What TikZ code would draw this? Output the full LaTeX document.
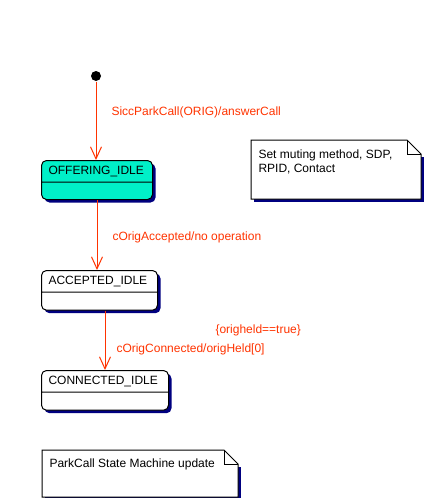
\documentclass[tikz,border=0pt]{standalone}
\usepackage{fontspec}
\setmainfont{Liberation Sans}
\usetikzlibrary{arrows.meta,shapes.multipart,shadows,calc}

\definecolor{stateaqua}{RGB}{0,240,200}
\definecolor{shadownavy}{RGB}{0,0,128}
\definecolor{transred}{RGB}{255,51,0}

\tikzset{
  startdot/.style={circle,fill=black,inner sep=0pt,minimum size=10pt},
  state/.style={rectangle split,rectangle split parts=2,draw,fill=white,
    rounded corners=5pt,inner xsep=7pt,inner ysep=0pt,align=left,
    drop shadow={shadow xshift=3pt,shadow yshift=-3pt,fill=shadownavy,opacity=1}},
  trans/.style={draw=transred,-{Straight Barb[length=12pt,width=11pt]}},
  translabel/.style={text=transred,anchor=west,inner sep=0pt},
  note/.style={draw=none,inner sep=0pt,anchor=north west},
  notetext/.style={anchor=north west,inner sep=0pt,align=left}
}

\newcommand{\headstrut}{\rule[-7.4pt]{0pt}{20.7pt}}
\newcommand{\bodystrut}{\rule{0pt}{17pt}}

\begin{document}
\begin{tikzpicture}[x=1pt,y=-1pt,line width=1pt,
    font=\fontsize{12}{14.7}\selectfont]
  \useasboundingbox (0,0) rectangle (433,498);

  % states
  \node[startdot] (start) at (96,76) {};
  \node[state,fill=stateaqua,text width=97pt,anchor=north west] (offering) at (41,160)
    {\headstrut OFFERING\_IDLE \nodepart{two}\rule{0pt}{16.3pt}};
  \node[state,text width=102pt,anchor=north west] (accepted) at (41,270)
    {\headstrut ACCEPTED\_IDLE \nodepart{two}\bodystrut};
  \node[state,text width=113pt,anchor=north west] (connected) at (41,370)
    {\headstrut CONNECTED\_IDLE \nodepart{two}\bodystrut};

  % transitions
  \draw[trans] (start.south) -- node[translabel,pos=0.39,xshift=15pt] (answerlbl)
    {SiccParkCall(ORIG)/answerCall} (start.south |- offering.north);
  \draw[trans] (offering.south) -- node[translabel,pos=0.53,xshift=15pt] (acceptlbl)
    {cOrigAccepted/no operation} (offering.south |- accepted.north);
  \draw[trans] (connected.north |- accepted.south) --
    node[translabel,pos=0.34,xshift=110pt] (guardlbl) {\{origheld==true\}}
    node[translabel,pos=0.66,xshift=11pt] (connectlbl) {cOrigConnected/origHeld[0]}
    (connected.north);

  % notes
  \node[note,minimum width=169pt,minimum height=58pt] (setnote) at (251,140) {};
  \node[note,minimum width=195pt,minimum height=46pt] (updatenote) at (42,450) {};
  \foreach \n in {setnote,updatenote} {
    \fill[shadownavy] ([shift={(3pt,-3pt)}]\n.south west) rectangle ([shift={(3pt,-17pt)}]\n.north east);
    \filldraw[fill=white] (\n.south west) -- (\n.north west) -- ([xshift=-14pt]\n.north east)
      -- ([yshift=-14pt]\n.north east) -- (\n.south east) -- cycle;
    \draw ([xshift=-14pt]\n.north east) |- ([yshift=-14pt]\n.north east);
  }
  \node[notetext] (settext) at ([shift={(7pt,-9pt)}]setnote.north west)
    {Set muting method, SDP,\\RPID, Contact};
  \node[notetext] (updatetext) at ([shift={(7pt,-8.5pt)}]updatenote.north west)
    {ParkCall State Machine update};
\end{tikzpicture}
\end{document}
